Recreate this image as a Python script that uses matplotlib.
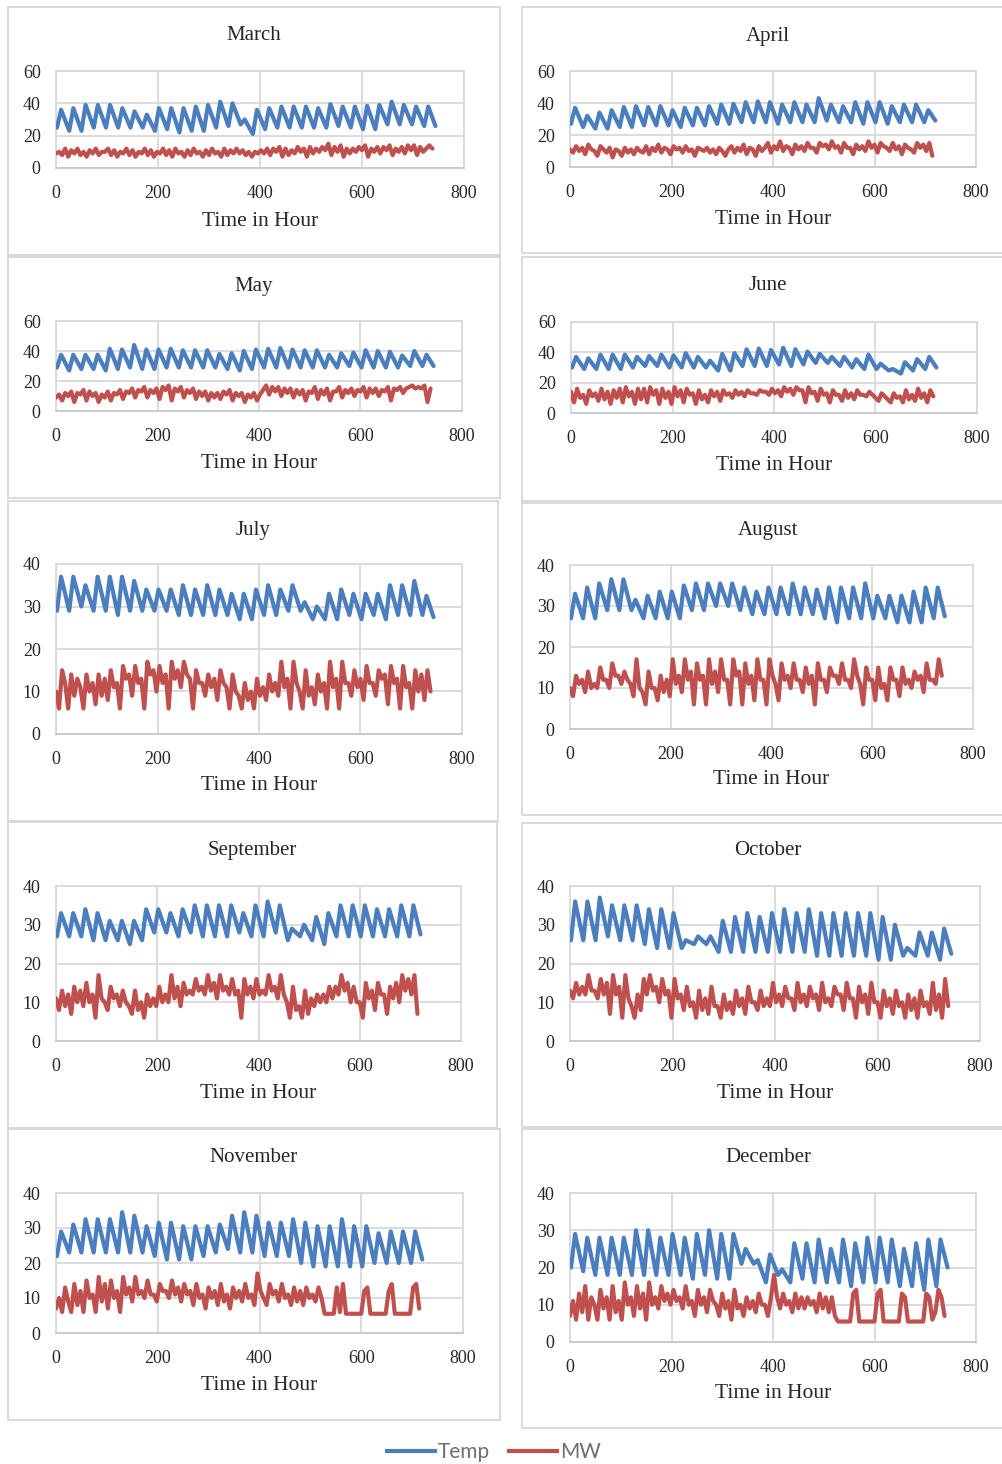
import matplotlib
matplotlib.use("Agg")
import matplotlib.pyplot as plt
from matplotlib.patches import Rectangle
from matplotlib.lines import Line2D

plt.rcParams['font.family'] = ['Liberation Serif', 'DejaVu Serif']

# ---------------------------------------------------------------- data
months = ["March", "April", "May", "June", "July",
          "August", "September", "October", "November", "December"]

# Daily minimum / maximum temperature (deg C) and the closing reading
march_temp_lo = [25, 23, 23, 25, 25, 25, 25, 25, 23, 24, 22, 23, 23, 25, 26, 27,
                 21, 24, 25, 25, 25, 25, 25, 26, 25, 24, 24, 27, 27, 27, 26]
march_temp_hi = [36, 37, 39, 39, 39, 37, 35, 33, 37, 37, 37, 38, 39, 41, 40, 30,
                 36, 37, 38, 38, 38, 37, 39.5, 38, 38, 38.5, 39, 41, 39, 38, 38]
march_temp_end = 26

april_temp_lo = [27, 25, 24, 24, 25, 25, 26, 26, 26, 25, 26, 26, 27, 27, 28,
                 28, 28, 27, 28, 28, 28, 29, 28, 28, 27, 28, 27, 28, 28, 28]
april_temp_hi = [37, 32, 34, 35.5, 37.5, 38, 37.5, 38, 35.5, 37, 37, 38, 39, 39.5, 40.5,
                 41, 40.5, 39, 40.5, 39, 43, 39, 38, 40.5, 40.5, 40.5, 38, 39, 39, 35.5]
april_temp_end = 29

may_temp_lo = [29, 27, 28, 28, 27, 28, 29, 28, 28, 29, 29, 29, 29, 29, 28, 27,
               28, 29, 29, 29, 29, 29, 29, 29, 30, 29, 29, 29, 29, 30, 30]
may_temp_hi = [37.5, 37.5, 37.5, 37.5, 41.5, 41, 44, 41, 41, 41.5, 40.5, 40.5, 40.5, 38, 38.5, 40,
               41, 41.5, 42, 41, 40.5, 40.5, 37.5, 38.5, 39, 40.5, 40, 39.5, 37, 40, 37.5]
may_temp_end = 30

june_temp_lo = [30, 29, 29, 29, 29, 30, 31, 31, 30, 30, 30, 30, 28, 28, 31,
                31, 31, 32, 31, 32, 33, 33, 31, 30, 29, 29, 28, 26, 28, 29]
june_temp_hi = [37, 36, 38.5, 38.5, 38.5, 37, 37.5, 38.5, 38, 39.5, 37, 34.5, 39, 39.5, 42,
                42.5, 41.5, 43, 42, 40.5, 39, 37, 37, 35.5, 38.5, 32.5, 29, 33.5, 35.5, 37]
june_temp_end = 30

july_temp_lo = [29, 29, 30, 29, 29, 28, 29, 29, 29, 29, 28, 28, 28, 28, 28, 27,
                27, 28, 28, 29, 29, 27, 27, 27, 28, 27, 28, 27, 28, 28, 28]
july_temp_hi = [37, 37, 35, 37, 37, 37, 36, 34, 34, 34, 35, 34, 35, 34, 33, 33,
                34, 35, 34, 35, 31, 30, 33, 34, 33, 33, 33, 35, 35, 36, 32.5]
july_temp_end = 27.5

august_temp_lo = [27, 27, 27, 29, 29, 29, 27, 27, 27, 27, 29, 29, 30, 30, 29, 28,
                  28, 28, 28, 28, 28, 27, 26, 27, 27, 27, 27, 26, 26, 26, 27]
august_temp_hi = [33, 34.5, 35.5, 36.5, 36.5, 31.5, 32.5, 33.5, 33.5, 35, 35.5, 35.5, 35.5, 35.5, 34.5, 33.5,
                  34.5, 34.5, 35.5, 34.5, 34, 34.5, 34.5, 34.5, 35.5, 32.5, 32.5, 32.5, 33.5, 34.5, 34.5]
august_temp_end = 27.5

september_temp_lo = [27, 27, 27, 26, 26, 26, 25, 26, 28, 28, 27, 28, 27, 27, 27,
                     28, 27, 27, 28, 26, 27, 26, 25, 27, 27, 27, 27, 27, 27, 27]
september_temp_hi = [33, 33, 34, 33, 31, 31, 31, 34, 34, 33, 34, 35, 35, 35, 35,
                     33, 35, 36, 35, 29, 30, 32, 33, 35, 35, 35, 34, 34, 35, 35]
september_temp_end = 27.5

october_temp_lo = [26, 26, 26, 27, 26, 26, 25, 24, 24, 24, 25, 25, 23, 23, 23, 23,
                   23, 23, 23, 23, 22, 22, 22, 22, 22, 21, 21, 22, 22, 22, 21]
october_temp_hi = [36, 36, 37, 35, 35, 35, 34, 34, 33, 26, 27, 27, 31, 32, 33, 32,
                   33, 34, 33, 34, 33, 33, 33, 33, 33, 32, 30, 24, 28, 28, 29]
october_temp_end = 22.5

november_temp_lo = [22, 23, 23, 23, 23, 23, 23, 23, 22, 21, 21, 21, 22, 23, 24,
                    23, 23, 22, 22, 22, 20, 19, 19, 19, 19, 19, 20, 20, 20, 20]
november_temp_hi = [29, 31, 32.5, 32.5, 32.5, 34.5, 33.5, 30.5, 31.5, 31.5, 30.5, 30.5, 30.5, 31, 33.5,
                    34.5, 33.5, 31.5, 31.5, 32.5, 31.5, 30.5, 30.5, 32.5, 30.5, 30.5, 28.5, 29, 29, 29]
november_temp_end = 21

december_temp_lo = [20, 19, 18, 18, 18, 18, 18, 18, 18, 18, 17, 18, 17, 17, 21, 21,
                    16, 18, 16, 17, 16, 16, 16, 15, 16, 16, 16, 15, 15, 14, 15]
december_temp_hi = [29, 28, 28, 28, 28, 30, 30, 28, 29, 28, 29, 30, 29, 29, 25, 22,
                    23.5, 19.5, 26.5, 26.5, 27.5, 25, 27.5, 26.5, 28, 28, 27.5, 25, 26.5, 27.5, 27.5]
december_temp_end = 20

# Load (MW), one reading every six hours
march_mw = [9, 10, 8, 12, 7, 11, 9, 12, 8, 10, 7, 11, 9, 12, 8, 10,
            10, 12, 8, 11, 7, 10, 9, 12, 8, 11, 7, 10, 9, 12, 8, 11,
            7, 10, 9, 12, 8, 11, 7, 12, 9, 10, 7, 11, 8, 12, 9, 10,
            7, 11, 8, 12, 9, 10, 7, 12, 8, 11, 9, 12, 9, 11, 8, 10,
            7, 10, 9, 11, 9, 12, 8, 12, 10, 13, 7, 12, 8, 11, 9, 13,
            10, 12, 7, 13, 9, 12, 10, 13, 11, 15, 8, 13, 10, 14, 7, 12,
            9, 12, 10, 13, 11, 14, 7, 12, 10, 13, 9, 13, 11, 14, 8, 12,
            10, 13, 9, 14, 11, 14, 8, 13, 10, 12, 14, 12]

april_mw = [11, 9, 13, 10, 12, 8, 14, 11, 10, 7, 13, 11, 9, 12, 6, 11,
            10, 7, 12, 9, 11, 8, 12, 10, 9, 13, 8, 12, 10, 14, 9, 12,
            11, 8, 13, 11, 12, 9, 13, 10, 11, 7, 12, 11, 10, 12, 9, 11,
            8, 12, 10, 7, 11, 13, 9, 12, 10, 14, 8, 12, 11, 7, 13, 10,
            12, 15, 9, 13, 11, 16, 10, 13, 12, 8, 14, 11, 13, 10, 15, 12,
            12, 9, 15, 13, 14, 11, 16, 12, 13, 9, 15, 12, 12, 8, 14, 11,
            13, 10, 16, 12, 14, 9, 15, 13, 12, 10, 15, 11, 13, 8, 14, 12,
            11, 9, 15, 12, 14, 10, 15, 7]

may_mw = [9, 11, 7, 12, 10, 13, 6, 12, 11, 14, 7, 13, 10, 12, 6, 11,
          9, 13, 7, 12, 11, 14, 8, 13, 12, 15, 9, 14, 13, 16, 9, 14,
          12, 15, 8, 16, 14, 17, 7, 15, 13, 16, 9, 14, 12, 15, 8, 13,
          10, 13, 7, 12, 9, 12, 8, 13, 11, 14, 7, 12, 10, 12, 6, 11,
          9, 12, 7, 11, 14, 17, 11, 16, 13, 16, 10, 15, 12, 15, 9, 14,
          11, 14, 7, 13, 12, 16, 8, 14, 11, 15, 7, 13, 13, 16, 9, 14,
          12, 15, 10, 14, 13, 16, 9, 15, 12, 15, 10, 14, 13, 16, 7, 15,
          14, 16, 12, 15, 16, 17, 15, 16, 15, 17, 6, 15]

june_mw = [14, 7, 16, 10, 12, 6, 15, 11, 13, 8, 16, 9, 14, 6, 15, 10,
           16, 7, 17, 11, 14, 6, 16, 9, 16, 7, 17, 12, 15, 6, 16, 10,
           14, 6, 17, 11, 15, 7, 16, 12, 13, 6, 15, 9, 12, 7, 15, 11,
           14, 8, 15, 12, 13, 10, 15, 12, 14, 11, 15, 13, 13, 12, 15, 14,
           14, 12, 16, 13, 15, 11, 17, 14, 16, 12, 17, 15, 15, 7, 17, 13,
           14, 8, 16, 12, 13, 7, 15, 12, 12, 8, 15, 10, 13, 9, 15, 12,
           12, 11, 14, 12, 10, 8, 13, 11, 9, 7, 13, 10, 11, 7, 15, 9,
           12, 8, 16, 10, 13, 7, 15, 11]

july_mw = [10, 6, 15, 12, 6, 14, 9, 13, 11, 6, 14, 10, 12, 7, 14, 9,
           13, 8, 15, 11, 12, 6, 16, 13, 14, 9, 16, 12, 13, 6, 17, 14,
           15, 10, 16, 12, 14, 6, 17, 13, 15, 11, 17, 14, 13, 6, 15, 12,
           12, 9, 14, 11, 13, 8, 15, 12, 11, 6, 14, 10, 9, 6, 12, 8,
           10, 6, 13, 9, 11, 8, 14, 10, 12, 9, 17, 11, 13, 6, 17, 12,
           10, 6, 15, 9, 11, 7, 14, 10, 12, 6, 17, 11, 13, 6, 17, 12,
           12, 9, 15, 11, 13, 8, 16, 12, 12, 9, 15, 13, 14, 7, 16, 12,
           13, 6, 16, 11, 12, 6, 15, 10, 14, 8, 15, 10]

august_mw = [10, 8, 13, 11, 12, 9, 14, 10, 11, 10, 15, 12, 12, 10, 16, 13,
             13, 11, 14, 12, 11, 8, 17, 10, 9, 6, 14, 10, 10, 7, 13, 9,
             12, 8, 17, 11, 13, 9, 17, 12, 14, 6, 16, 12, 13, 6, 17, 11,
             14, 9, 17, 12, 12, 6, 17, 13, 14, 6, 16, 11, 13, 7, 17, 12,
             12, 6, 17, 13, 11, 7, 16, 12, 13, 10, 16, 12, 12, 9, 15, 11,
             13, 6, 16, 12, 12, 9, 15, 13, 13, 11, 16, 12, 12, 10, 17, 13,
             11, 6, 15, 12, 12, 7, 15, 10, 11, 7, 15, 12, 12, 8, 15, 11,
             12, 10, 14, 12, 13, 9, 16, 12, 12, 11, 17, 13]

september_mw = [11, 8, 13, 9, 12, 7, 14, 10, 13, 9, 15, 10, 12, 6, 17, 11,
                10, 8, 14, 11, 12, 9, 13, 10, 9, 7, 13, 8, 10, 6, 12, 9,
                11, 9, 14, 10, 12, 10, 17, 11, 14, 9, 15, 12, 13, 12, 16, 13,
                14, 12, 17, 13, 15, 11, 17, 13, 14, 12, 16, 12, 13, 6, 16, 12,
                14, 11, 16, 12, 13, 12, 17, 13, 14, 11, 17, 12, 10, 6, 14, 8,
                9, 6, 13, 7, 11, 9, 12, 10, 12, 10, 14, 11, 14, 12, 17, 13,
                15, 10, 14, 10, 10, 6, 15, 11, 13, 8, 15, 12, 12, 7, 14, 11,
                15, 10, 17, 13, 16, 12, 17, 7]

october_mw = [13, 11, 15, 12, 14, 12, 17, 13, 13, 11, 16, 12, 15, 7, 17, 12,
              14, 6, 17, 11, 9, 6, 12, 8, 16, 12, 17, 13, 14, 10, 16, 12,
              13, 6, 16, 11, 12, 8, 14, 9, 10, 6, 13, 8, 11, 7, 14, 9,
              9, 6, 12, 8, 10, 7, 13, 9, 11, 7, 14, 10, 10, 8, 13, 9,
              11, 9, 15, 10, 12, 9, 14, 11, 11, 8, 15, 10, 12, 9, 14, 11,
              12, 8, 15, 10, 11, 9, 14, 12, 12, 8, 15, 11, 11, 6, 14, 10,
              12, 7, 15, 10, 10, 6, 13, 9, 11, 7, 13, 9, 10, 6, 12, 8,
              11, 6, 13, 9, 10, 7, 15, 8, 12, 6, 16, 9]

november_mw = [7, 10, 6, 13, 9, 6, 14, 8, 12, 6, 15, 10, 11, 6, 16, 9,
               14, 7, 15, 10, 12, 6, 16, 11, 13, 9, 16, 11, 12, 10, 15, 11,
               11, 9, 14, 12, 12, 10, 15, 11, 13, 9, 14, 11, 12, 8, 14, 10,
               11, 7, 13, 10, 12, 8, 14, 9, 11, 7, 13, 10, 12, 9, 14, 10,
               11, 8, 17, 12, 10, 8, 14, 11, 12, 9, 14, 10, 11, 8, 13, 9,
               12, 8, 13, 10, 11, 9, 13, 10, 5.5, 5.5, 5.5, 5.5, 13, 6, 14, 5.5,
               5.5, 5.5, 5.5, 5.5, 5.5, 12, 13, 5.5, 5.5, 5.5, 5.5, 5.5, 5.5, 12, 14, 5.5,
               5.5, 5.5, 5.5, 5.5, 5.5, 13, 14, 7]

december_mw = [7, 11, 6, 13, 8, 15, 6, 12, 10, 6, 14, 9, 12, 6, 15, 8,
               11, 6, 16, 10, 12, 7, 15, 9, 13, 6, 16, 10, 12, 9, 15, 11,
               13, 10, 14, 11, 12, 9, 15, 10, 11, 7, 14, 10, 12, 8, 14, 11,
               10, 7, 13, 9, 11, 6, 14, 9, 10, 7, 12, 9, 11, 8, 13, 10,
               10, 7, 12, 18, 12, 9, 13, 10, 11, 8, 13, 9, 12, 9, 12, 10,
               11, 8, 13, 9, 12, 8, 12, 7, 5.5, 5.5, 5.5, 5.5, 5.5, 13, 14, 5.5,
               5.5, 5.5, 5.5, 5.5, 5.5, 13, 14, 5.5, 5.5, 5.5, 5.5, 5.5, 5.5, 13, 12, 5.5,
               5.5, 5.5, 5.5, 5.5, 5.5, 13, 12, 6, 8, 14, 12, 7]

temp_lo = [march_temp_lo, april_temp_lo, may_temp_lo, june_temp_lo, july_temp_lo,
           august_temp_lo, september_temp_lo, october_temp_lo, november_temp_lo, december_temp_lo]
temp_hi = [march_temp_hi, april_temp_hi, may_temp_hi, june_temp_hi, july_temp_hi,
           august_temp_hi, september_temp_hi, october_temp_hi, november_temp_hi, december_temp_hi]
temp_end = [march_temp_end, april_temp_end, may_temp_end, june_temp_end, july_temp_end,
            august_temp_end, september_temp_end, october_temp_end, november_temp_end, december_temp_end]
mw = [march_mw, april_mw, may_mw, june_mw, july_mw,
      august_mw, september_mw, october_mw, november_mw, december_mw]

y_top = [60, 60, 60, 60, 40, 40, 40, 40, 40, 40]
y_step = [20, 20, 20, 20, 10, 10, 10, 10, 10, 10]
x_ticks = [0, 200, 400, 600, 800]

# hour of the day at which the daily minimum / maximum is logged
HOUR_LO, HOUR_HI = 2, 10
MW_STEP = 6

# ---------------------------------------------------------------- layout (pixels)
W, H = 1002, 1464
# plot areas: (left, top, right, bottom)
ax_px = [(56, 71, 464, 168), (570, 71, 976, 167),
         (56, 321, 462, 411), (571, 322, 977, 413),
         (56, 564, 462, 734), (570, 565, 973, 729),
         (56, 886, 461, 1041), (570, 886, 980, 1041),
         (56, 1193, 463, 1333), (570, 1193, 976, 1342)]
# chart frames: (left, top, right, bottom)
box_px = [(8, 7, 500, 255), (522, 7, 1014, 253),
          (8, 257, 500, 498), (522, 257, 1014, 503),
          (8, 501, 498, 821), (522, 501, 1014, 815),
          (8, 822, 497, 1128), (522, 823, 1014, 1127),
          (8, 1129, 500, 1420), (522, 1129, 1014, 1428)]
title_y = [36, 36, 286, 286, 530, 530, 851, 851, 1158, 1158]
xlabel_y = [221, 219, 464, 466, 786, 780, 1093, 1093, 1385, 1393]

TEMP_C = '#4a7ebf'
MW_C = '#c0504d'
GRID_C = '#d9d9d9'
TEXT_C = '#262626'
LW = 3.0


def fx(x):
    return x / W


def fy(y):
    return 1 - y / H


fig = plt.figure(figsize=(W / 100, H / 100), dpi=100)
fig.patch.set_facecolor('white')

for i, name in enumerate(months):
    bx0, by0, bx1, by1 = box_px[i]
    fig.add_artist(Rectangle((fx(bx0), fy(by1)), fx(bx1 - bx0), (by1 - by0) / H,
                             transform=fig.transFigure, fill=False,
                             edgecolor=GRID_C, linewidth=1.4, zorder=0))

    l, t, r, b = ax_px[i]
    ax = fig.add_axes([fx(l), fy(b), (r - l) / W, (b - t) / H])

    # temperature: daily min and max in time order
    tx, ty = [], []
    for d, (lo, hi) in enumerate(zip(temp_lo[i], temp_hi[i])):
        tx += [24 * d + HOUR_LO, 24 * d + HOUR_HI]
        ty += [lo, hi]
    tx.append(24 * len(temp_lo[i]))
    ty.append(temp_end[i])

    mx = [MW_STEP * k for k in range(len(mw[i]))]

    ax.plot(tx, ty, color=TEMP_C, lw=LW, solid_joinstyle='round',
            solid_capstyle='round', zorder=3)
    ax.plot(mx, mw[i], color=MW_C, lw=LW, solid_joinstyle='round',
            solid_capstyle='round', zorder=3)

    ax.set_xlim(0, 800)
    ax.set_ylim(0, y_top[i])
    ax.set_xticks(x_ticks)
    ax.set_yticks(list(range(0, y_top[i] + 1, y_step[i])))
    ax.grid(True, color=GRID_C, lw=1.3)
    ax.set_axisbelow(True)
    for s in ax.spines.values():
        s.set_color(GRID_C)
        s.set_linewidth(1.3)
    ax.spines['bottom'].set_color('#c8c8c8')
    ax.tick_params(length=0, labelsize=13, labelcolor=TEXT_C)
    ax.tick_params(axis='x', pad=12)
    ax.tick_params(axis='y', pad=11)

    fig.text(fx((bx0 + min(bx1, 1014)) / 2), fy(title_y[i]), name,
             ha='center', va='center', fontsize=15, color=TEXT_C)
    fig.text(fx((l + r) / 2), fy(xlabel_y[i]), "Time in Hour",
             ha='center', va='center', fontsize=15.5, color=TEXT_C)

handles = [Line2D([], [], color=TEMP_C, lw=LW, label='Temp'),
           Line2D([], [], color=MW_C, lw=LW, label='MW')]
fig.legend(handles=handles, loc='center', bbox_to_anchor=(fx(494), fy(1452)),
           ncol=2, frameon=False, handlelength=2.3, handletextpad=0.15,
           columnspacing=0.9, labelcolor='#6e6e6e',
           prop={'family': ['Lato', 'DejaVu Sans'], 'size': 15})

fig.savefig('out.png', dpi=100, facecolor='white')
